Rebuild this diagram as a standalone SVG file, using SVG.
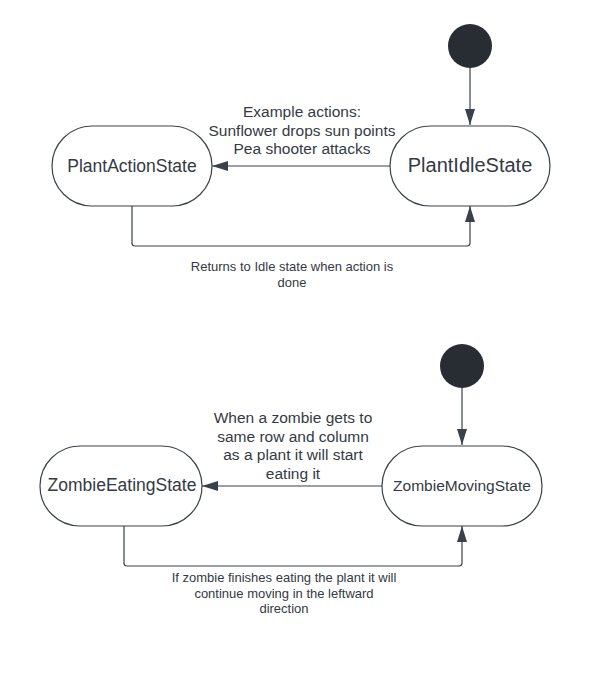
<svg xmlns="http://www.w3.org/2000/svg" width="595" height="681" viewBox="0 0 595 681">
<defs>
<marker id="arr" viewBox="0 0 16 10" refX="16" refY="5" markerWidth="16" markerHeight="10" markerUnits="userSpaceOnUse" orient="auto">
<path d="M0,0 L16,5 L0,10 Z" fill="#3a414a"/>
</marker>
<style>
.st{fill:#ffffff;stroke:#3a414a;stroke-width:1.2}
.init{fill:#282c33}
.ln{fill:none;stroke:#3a414a;stroke-width:1.2;marker-end:url(#arr)}
text{font-family:"Liberation Sans",Arial,sans-serif;fill:#333a44;text-anchor:middle}
.lbl{font-size:15.5px}
.sm{font-size:13px}
</style>
</defs>
<rect width="595" height="681" fill="#ffffff"/>
<g id="connectors">
<path class="ln" d="M470,67 L470,125"/>
<path class="ln" d="M390,166 L212,166"/>
<path class="ln" d="M132,206 L132,243 Q132,246 135,246 L467,246 Q470,246 470,243 L470,206"/>
<path class="ln" d="M462,387 L462,445"/>
<path class="ln" d="M382,486 L202,486"/>
<path class="ln" d="M124,526 L124,563 Q124,566 127,566 L459,566 Q462,566 462,563 L462,526"/>
</g>
<g id="init1"><circle class="init" cx="470" cy="46" r="22"/></g>
<g id="PlantIdleState"><rect class="st" x="390" y="126" width="160" height="80" rx="40" ry="40"/><text x="470" y="172" font-size="20">PlantIdleState</text></g>
<g id="PlantActionState"><rect class="st" x="52" y="126" width="160" height="80" rx="40" ry="40"/><text x="132" y="172" font-size="17.5">PlantActionState</text></g>
<g id="label1"><text class="lbl" x="302" y="117">Example actions:</text><text class="lbl" x="302" y="135.5">Sunflower drops sun points</text><text class="lbl" x="302" y="154">Pea shooter attacks</text></g>
<g id="label2"><text class="sm" x="292" y="271">Returns to Idle state when action is</text><text class="sm" x="292" y="287">done</text></g>
<g id="init2"><circle class="init" cx="462" cy="366" r="22"/></g>
<g id="ZombieMovingState"><rect class="st" x="382" y="446" width="160" height="80" rx="40" ry="40"/><text x="462" y="491" font-size="15.5">ZombieMovingState</text></g>
<g id="ZombieEatingState"><rect class="st" x="40" y="446" width="162" height="80" rx="40" ry="40"/><text x="122" y="491" font-size="17.5">ZombieEatingState</text></g>
<g id="label3"><text class="lbl" x="293" y="423">When a zombie gets to</text><text class="lbl" x="293" y="441.5">same row and column</text><text class="lbl" x="293" y="460">as a plant it will start</text><text class="lbl" x="293" y="478.5">eating it</text></g>
<g id="label4"><text class="sm" x="284" y="582">If zombie finishes eating the plant it will</text><text class="sm" x="284" y="597.5">continue moving in the leftward</text><text class="sm" x="284" y="613">direction</text></g>
</svg>
